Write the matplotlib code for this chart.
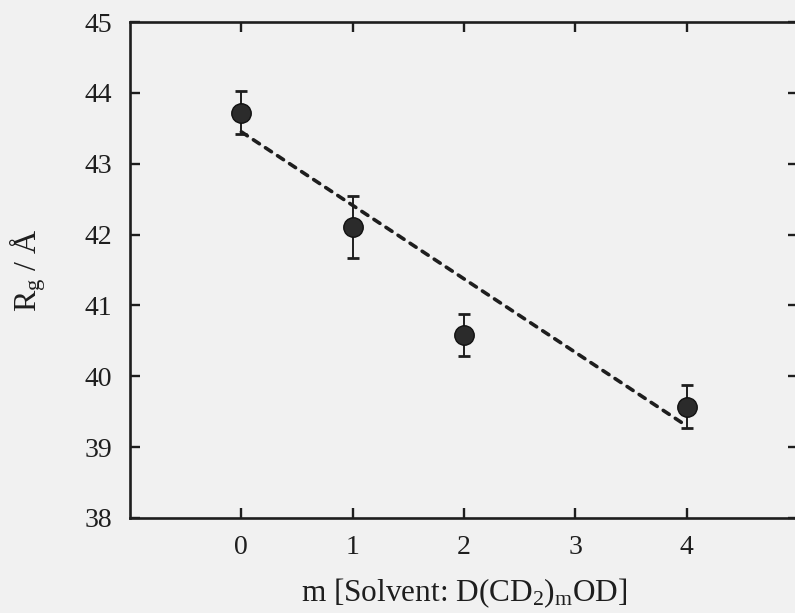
import numpy as np
import matplotlib
matplotlib.use("Agg")
import matplotlib.pyplot as plt

plt.rcParams['font.family'] = ['Liberation Serif', 'DejaVu Serif']
plt.rcParams['mathtext.fontset'] = 'custom'
plt.rcParams['mathtext.rm'] = 'Liberation Serif'
plt.rcParams['mathtext.it'] = 'Liberation Serif:italic'

# radius of gyration vs. alkyl chain length of the solvent
m_vals = [0, 1, 2, 4]
rg_vals = [43.72, 42.11, 40.58, 39.57]
rg_err = [0.30, 0.44, 0.30, 0.30]

# linear fit line (end points)
fit_m = [0, 4]
fit_rg = [43.45, 39.30]

x_ticks = [0, 1, 2, 3, 4]
y_ticks = [38, 39, 40, 41, 42, 43, 44, 45]

bg = '#f1f1f1'
ink = '#1e1e1e'

fig = plt.figure(figsize=(7.95, 6.13), dpi=100, facecolor=bg)
ax = fig.add_axes([0.1635, 0.155, 0.8403, 0.8091], facecolor=bg)

ax.plot(fit_m, fit_rg, linestyle=(0, (2.0, 2.0)), color=ink, lw=2.6,
        dash_capstyle='round', zorder=2)
ax.errorbar(m_vals, rg_vals, yerr=rg_err, fmt='o', color=ink, ecolor=ink,
            markersize=14, elinewidth=1.4, capsize=4, capthick=2.0,
            markeredgecolor='#111111', markerfacecolor='#2b2b2b', zorder=3)

ax.set_xlim(-1, 5)
ax.set_ylim(38, 45)
ax.set_xticks(x_ticks)
ax.set_yticks(y_ticks)

for s in ax.spines.values():
    s.set_linewidth(1.9)
    s.set_color(ink)
ax.tick_params(direction='in', length=7, width=1.7, colors=ink,
               top=True, right=True, labelsize=20)
ax.tick_params(axis='x', pad=12)
ax.tick_params(axis='y', pad=13)

ax.set_xlabel('m [Solvent: D(CD$_2$)$_\\mathrm{m}$OD]', fontsize=22.5, labelpad=12, color=ink)
ax.set_ylabel('R$_\\mathrm{g}$ / Å', fontsize=23, labelpad=26, color=ink)

fig.savefig('out.png', dpi=100, facecolor=bg)
